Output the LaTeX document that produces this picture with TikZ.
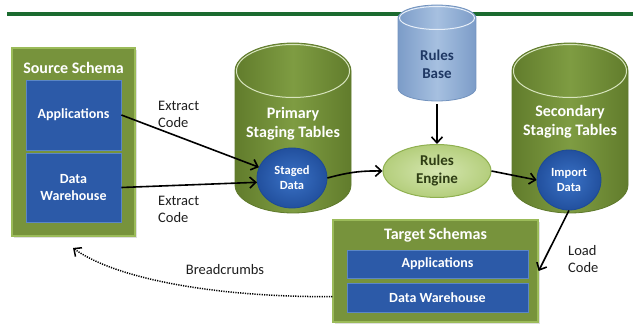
\documentclass[tikz,border=0pt]{standalone}
\usepackage{fontspec}
\setmainfont{Carlito}
\usetikzlibrary{arrows.meta,shapes.geometric,shadows,calc}

\definecolor{topgreen}{HTML}{1B6B2F}
\definecolor{boxgreen}{HTML}{77933C}
\definecolor{boxedge}{HTML}{9BBB59}
\definecolor{darkblue}{HTML}{2C5AA8}
\definecolor{blueedge}{HTML}{5B86C6}
\definecolor{ballin}{HTML}{3A72C6}
\definecolor{ballout}{HTML}{22509E}
\definecolor{balledge}{HTML}{1D4A96}
\definecolor{cyldark}{HTML}{617C2C}
\definecolor{cyllight}{HTML}{7E9C42}
\definecolor{cyledge}{HTML}{5F7A2C}
\definecolor{cyltop}{HTML}{D7E4BD}
\definecolor{rbdark}{HTML}{7C9CC8}
\definecolor{rblight}{HTML}{A6C0E0}
\definecolor{rbedge}{HTML}{7393BE}
\definecolor{rbtop}{HTML}{E6EEF8}
\definecolor{rbtext}{HTML}{1F3864}
\definecolor{engin}{HTML}{D5E6B0}
\definecolor{engout}{HTML}{B4CE7C}
\definecolor{engedge}{HTML}{8FB050}
\definecolor{engtext}{HTML}{2E3D14}
\definecolor{labeltext}{HTML}{1E1E1E}

% cx, ytop-center, ybottom-center, rx, ry, dark, light, edge, top ellipse line
\newcommand{\drawcyl}[9]{%
  \shade[left color=#6, right color=#6, middle color=#7] (#1-#4,#2) -- (#1-#4,#3)
    arc[start angle=180,end angle=360,x radius=#4,y radius=#5]
    -- (#1+#4,#2)
    arc[start angle=0,end angle=180,x radius=#4,y radius=#5] -- cycle;
  \draw[#8,line width=0.8pt] (#1-#4,#2) -- (#1-#4,#3)
    arc[start angle=180,end angle=360,x radius=#4,y radius=#5]
    -- (#1+#4,#2)
    arc[start angle=0,end angle=180,x radius=#4,y radius=#5] -- cycle;
  \draw[#9,line width=1pt] (#1,#2) ellipse[x radius=#4-1.5,y radius=#5-1.5];
}

\tikzset{
  greenbox/.style={draw=boxedge, line width=1.2pt, fill=boxgreen, inner sep=0pt,
    drop shadow={opacity=0.25,shadow xshift=2pt,shadow yshift=-2pt}},
  bluebox/.style={draw=blueedge, line width=0.8pt, fill=darkblue, inner sep=0pt,
    text=white, font=\bfseries\fontsize{14}{17}\selectfont, align=center},
  titletext/.style={text=white, font=\bfseries\fontsize{16}{19}\selectfont, align=center, inner sep=0pt},
  ball/.style={ellipse, draw=balledge, line width=0.8pt, inner color=ballin, outer color=ballout, inner sep=0pt,
    text=white, font=\bfseries\fontsize{12.5}{15}\selectfont, align=center},
  lbl/.style={text=labeltext, font=\fontsize{14.5}{17}\selectfont, align=left, inner sep=0pt},
  flow/.style={line width=1.6pt, -{Straight Barb[length=6pt,width=11pt]}},
  hidden/.style={inner sep=0pt, draw=none},
}

\begin{document}
\begin{tikzpicture}[x=1pt,y=1pt]
\useasboundingbox (0,0) rectangle (633,-326);

% top rule
\draw[topgreen, line width=4pt] (7,-14) -- (633,-14);

% cylinders
\drawcyl{293}{-71}{-185}{58}{28}{cyldark}{cyllight}{cyledge}{cyltop}
\drawcyl{570}{-71}{-185}{58}{28}{cyldark}{cyllight}{cyledge}{cyltop}
\drawcyl{437}{-18}{-88}{39}{13}{rbdark}{rblight}{rbedge}{rbtop}

\node[hidden, minimum width=116pt, minimum height=170pt] (primary) at (293,-128) {};
\node[hidden, minimum width=116pt, minimum height=170pt] (secondary) at (570,-128) {};
\node[hidden, minimum width=78pt, minimum height=96pt] (rulesbase) at (437,-53) {};

\node[titletext] (primlbl) at (293,-124) {Primary\\Staging Tables};
\node[titletext] (seclbl) at (570,-122) {Secondary\\Staging Tables};
\node[titletext, text=rbtext, font=\bfseries\fontsize{15}{18}\selectfont] (rblbl) at (437,-64) {Rules\\Base};

% source schema
\node[greenbox, minimum width=123pt, minimum height=188pt] (source) at (73.5,-142) {};
\node[titletext] (srctitle) at (73.5,-68) {Source Schema};
\node[bluebox, minimum width=95pt, minimum height=70pt] (srcapp) at (73.5,-115) {Applications};
\node[bluebox, minimum width=95pt, minimum height=69pt] (srcdw) at (73.5,-187.5) {Data\\Warehouse};

% target schemas
\node[greenbox, minimum width=205pt, minimum height=102pt] (target) at (435.5,-271) {};
\node[titletext] (tgttitle) at (435.5,-235) {Target Schemas};
\node[bluebox, minimum width=181pt, minimum height=28pt] (tgtapp) at (437.5,-264) {Applications};
\node[bluebox, minimum width=181pt, minimum height=29pt] (tgtdw) at (437.5,-297.5) {Data Warehouse};

% ellipses
\node[ball, minimum width=70pt, minimum height=60pt] (staged) at (292,-178) {Staged\\Data};
\node[ball, minimum width=64pt, minimum height=60pt] (import) at (569,-180) {Import\\Data};
\node[ellipse, draw=engedge, line width=1pt, inner color=engin, outer color=engout, minimum width=108pt, minimum height=53pt,
  inner sep=0pt, text=engtext, font=\bfseries\fontsize{15}{18}\selectfont, align=center] (engine) at (437,-171) {Rules\\Engine};

% connectors
\draw[flow] (srcapp.east) -- (staged.162);
\draw[flow] (srcdw.east) -- (staged.187);
\draw[flow] (staged.east) to[bend left=8] (engine.west);
\draw[flow, shorten <=3pt] (rulesbase.south) -- (engine.north);
\draw[flow] (engine.east) -- (import.west);
\draw[flow] (import.south) -- (target.east);
\coordinate (bcend) at (73,-248);
\draw[line width=1.5pt, dash pattern=on 1.2pt off 1.2pt, -{Straight Barb[length=6pt,width=11pt]}]
  (target.194) .. controls (200,-297) and (110,-275) .. (bcend);

% labels
\node[lbl, anchor=west] (ex1) at (158,-114) {Extract\\Code};
\node[lbl, anchor=west] (ex2) at (158,-209) {Extract\\Code};
\node[lbl] (bc) at (225,-270) {Breadcrumbs};
\node[lbl, anchor=west] (load) at (568,-259) {Load\\Code};
\end{tikzpicture}
\end{document}
